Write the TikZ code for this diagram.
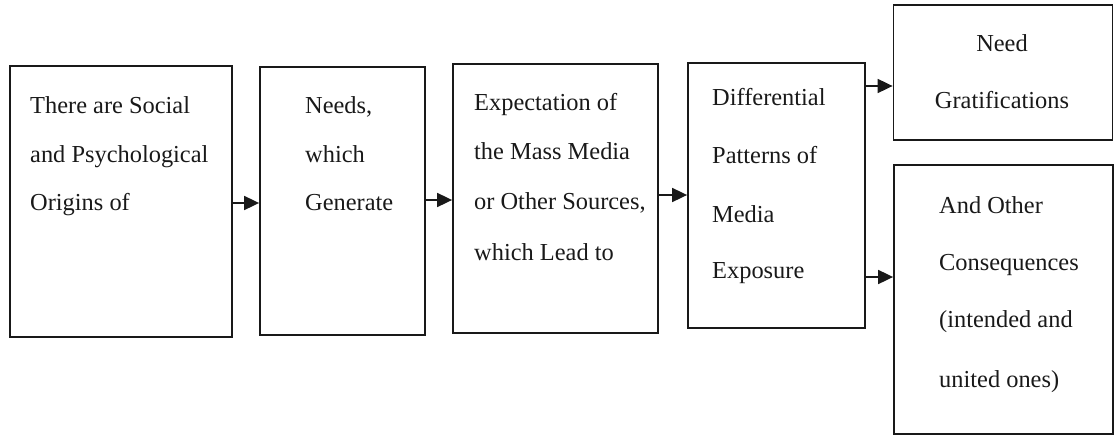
\documentclass[tikz,border=0pt]{standalone}
\usepackage{fontspec}
\setmainfont{Liberation Serif}
\usetikzlibrary{arrows.meta}
\begin{document}
\begin{tikzpicture}[x=1pt,y=-1pt,
  box/.style={draw=black!90,line width=1.8pt,rectangle,inner sep=0pt},
  txt/.style={anchor=base west,inner sep=0pt,font=\fontsize{24.4}{29}\selectfont,text=black!90},
  ctxt/.style={anchor=base,inner sep=0pt,font=\fontsize{24.4}{29}\selectfont,text=black!90},
  arr/.style={draw=black!90,line width=1.8pt,-{Triangle[length=15pt,width=14pt]}}]
\useasboundingbox (0,0) rectangle (1115,436);
% boxes
\node[box,minimum width=222pt,minimum height=271pt] (b1) at (121,201.5) {};
\node[box,minimum width=165pt,minimum height=268pt] (b2) at (342.5,201) {};
\node[box,minimum width=205pt,minimum height=269pt] (b3) at (555.5,198.5) {};
\node[box,minimum width=177pt,minimum height=265pt] (b4) at (776.5,195.5) {};
\node[box,minimum width=219pt,minimum height=135pt] (b5) at (1003,72.5) {};
\node[box,minimum width=219pt,minimum height=269pt] (b6) at (1003.5,299.5) {};
% texts box 1
\node[txt] (t11) at (30,113) {There are Social};
\node[txt] (t12) at (30,162) {and Psychological};
\node[txt] (t13) at (30,210) {Origins of};
% box 2
\node[txt] (t21) at (305,113) {Needs,};
\node[txt] (t22) at (305,162) {which};
\node[txt] (t23) at (305,210) {Generate};
% box 3
\node[txt] (t31) at (474,110) {Expectation of};
\node[txt] (t32) at (474,159) {the Mass Media};
\node[txt] (t33) at (474,209) {or Other Sources,};
\node[txt] (t34) at (474,260) {which Lead to};
% box 4
\node[txt] (t41) at (712,105) {Differential};
\node[txt] (t42) at (712,163) {Patterns of};
\node[txt] (t43) at (712,222) {Media};
\node[txt] (t44) at (712,278) {Exposure};
% box 5
\node[ctxt] (t51) at (1002,52) {Need};
\node[ctxt] (t52) at (1002,108) {Gratifications};
% box 6
\node[txt] (t61) at (939,213) {And Other};
\node[txt] (t62) at (939,270) {Consequences};
\node[txt] (t63) at (939,327) {(intended and};
\node[txt] (t64) at (939,387) {united ones)};
% connectors
\coordinate (a1) at (0,203);
\coordinate (a2) at (0,200);
\coordinate (a3) at (0,195);
\coordinate (a5) at (0,86);
\coordinate (a6) at (0,277);
\draw[arr] (b1.east |- a1) -- (b2.west |- a1);
\draw[arr] (b2.east |- a2) -- (b3.west |- a2);
\draw[arr] (b3.east |- a3) -- (b4.west |- a3);
\draw[arr] (b4.east |- a5) -- (b5.west |- a5);
\draw[arr] (b4.east |- a6) -- (b6.west |- a6);
\end{tikzpicture}
\end{document}
